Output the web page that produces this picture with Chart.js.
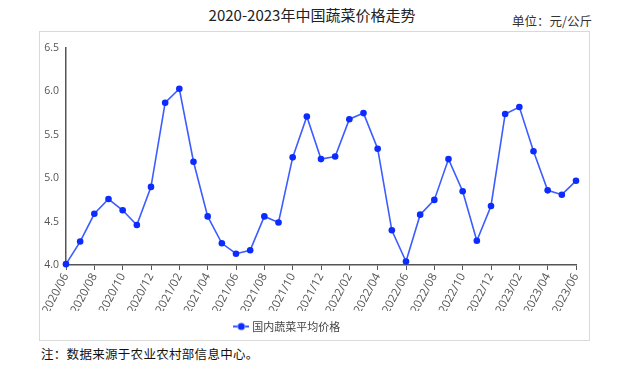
<!DOCTYPE html>
<html>
<head>
<meta charset="utf-8">
<script src="https://cdn.jsdelivr.net/npm/chart.js@4"></script>
<style>
  html,body{margin:0;padding:0;background:#fff;}
  #wrap{position:relative;width:630px;height:368px;overflow:hidden;}
  #box{position:absolute;left:39px;top:31px;width:551px;height:310px;border:1px solid #d9d9d9;box-sizing:border-box;}
  #title{position:absolute;left:0;width:624px;top:4px;text-align:center;font:15px "Noto Sans CJK SC",sans-serif;color:#222;white-space:nowrap;}
  #unit{position:absolute;right:38px;top:11px;font:12.5px "Noto Sans CJK SC",sans-serif;color:#333;white-space:nowrap;}
  #note{position:absolute;left:41px;top:344px;font:12.5px "Noto Sans CJK SC",sans-serif;color:#111;white-space:nowrap;letter-spacing:0.3px;}
  canvas{position:absolute;left:0;top:0;}
</style>
</head>
<body>
<div id="wrap">
  <div id="box"></div>
  <div id="title">2020-2023年中国蔬菜价格走势</div>
  <div id="unit">单位：元/公斤</div>
  <div id="note">注：数据来源于农业农村部信息中心。</div>
  <canvas id="c" width="630" height="368"></canvas>
</div>
<script>
const months = [
  "2020/06","2020/07","2020/08","2020/09","2020/10","2020/11","2020/12",
  "2021/01","2021/02","2021/03","2021/04","2021/05","2021/06","2021/07","2021/08","2021/09","2021/10","2021/11","2021/12",
  "2022/01","2022/02","2022/03","2022/04","2022/05","2022/06","2022/07","2022/08","2022/09","2022/10","2022/11","2022/12",
  "2023/01","2023/02","2023/03","2023/04","2023/05","2023/06"
];
const prices = [
  4.01,4.27,4.59,4.76,4.63,4.46,4.90,
  5.87,6.03,5.19,4.56,4.25,4.13,4.17,4.56,4.49,5.24,5.71,5.22,
  5.25,5.68,5.75,5.34,4.40,4.04,4.58,4.75,5.22,4.85,4.28,4.68,
  5.74,5.82,5.31,4.86,4.81,4.97
];
const seriesName = "国内蔬菜平均价格";
const yTicks = [4.0, 4.5, 5.0, 5.5, 6.0, 6.5];

const lineColor = "#3d5cff";
const pointColor = "#0b2bff";

// legend marker: dashed line with dot
const marker = document.createElement("canvas");
marker.width = 16; marker.height = 10;
(function(){
  const g = marker.getContext("2d");
  g.strokeStyle = lineColor; g.lineWidth = 2;
  g.beginPath(); g.moveTo(0,5); g.lineTo(4,5); g.moveTo(12,5); g.lineTo(16,5); g.stroke();
  g.fillStyle = pointColor;
  g.beginPath(); g.arc(8,5,3.6,0,Math.PI*2); g.fill();
})();

new Chart(document.getElementById("c"), {
  type: "line",
  data: {
    labels: months,
    datasets: [{
      label: seriesName,
      data: prices,
      borderColor: lineColor,
      backgroundColor: pointColor,
      pointBackgroundColor: pointColor,
      pointBorderColor: pointColor,
      pointRadius: 3.3,
      pointBorderWidth: 0,
      borderWidth: 1.6,
      tension: 0,
      clip: false
    }]
  },
  options: {
    responsive: false,
    animation: false,
    devicePixelRatio: 1,
    layout: { padding: { left: 0, right: 54, top: 48, bottom: 26 } },
    plugins: {
      tooltip: { enabled: false },
      legend: {
        position: "bottom",
        labels: {
          usePointStyle: true,
          pointStyle: marker,
          padding: 10,
          color: "#444",
          font: { family: "'Noto Sans CJK SC', sans-serif", size: 11 }
        }
      }
    },
    scales: {
      x: {
        offset: false,
        grid: { display: true, drawOnChartArea: false, drawTicks: true, tickLength: 5, color: "#555", lineWidth: 1 },
        border: { display: true, color: "#555", width: 1.5 },
        ticks: {
          autoSkip: false,
          minRotation: 62, maxRotation: 62,
          padding: 1,
          color: "#555",
          font: { family: "'Open Sans', sans-serif", size: 11.5 },
          callback: function(v, i){ return i % 2 === 0 ? months[i] : null; }
        },
        afterFit: function(s){ s.height = 46; }
      },
      y: {
        min: 4, max: 6.5,
        grid: { display: false, drawTicks: false },
        border: { display: true, color: "#555", width: 1.5 },
        afterBuildTicks: function(s){ s.ticks = yTicks.map(v => ({ value: v })); },
        ticks: {
          padding: 7,
          color: "#555",
          font: { family: "'Open Sans', sans-serif", size: 10.5 },
          callback: function(v){ return Number(v).toFixed(1); }
        },
        afterFit: function(s){ s.width = 66; }
      }
    }
  }
});
</script>
</body>
</html>
